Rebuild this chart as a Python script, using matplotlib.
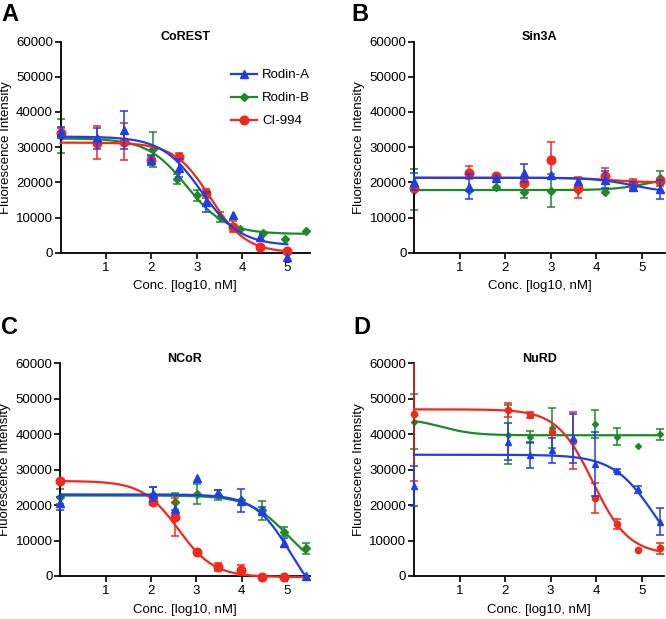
import numpy as np
import matplotlib
matplotlib.use("Agg")
import matplotlib.pyplot as plt
from matplotlib.patches import Rectangle

plt.rcParams['font.family'] = ['Liberation Sans', 'DejaVu Sans']

# --- Data ---
SERIES = ["Rodin-A", "Rodin-B", "CI-994"]
COLORS = {"Rodin-A": "#1f3fe6", "Rodin-B": "#1d8a26", "CI-994": "#f2281c"}
MARKERS = {"Rodin-A": "^", "Rodin-B": "D", "CI-994": "o"}
PANEL_TITLES = ["CoREST", "Sin3A", "NCoR", "NuRD"]
PANEL_LETTERS = ["A", "B", "C", "D"]
X_TICKS = [1, 2, 3, 4, 5]
Y_TICKS = [0, 10000, 20000, 30000, 40000, 50000, 60000]

# A: CoREST
a_x_4fold = [0, 0.8, 1.4, 2.0, 2.6, 3.2, 3.8, 4.4, 5.0]
a_x_3fold = [0, 2.04, 2.56, 3.0, 3.52, 3.96, 4.46, 4.95, 5.42]
a_rodin_a = [34200, 32500, 34900, 26400, 24000, 14500, 10700, 4400, -1100]
a_rodin_a_err = [1600, 2900, 5300, 1500, 2500, 2800, 0, 0, 0]
a_rodin_b = [33200, 29400, 20900, 16300, 10100, 6600, 5600, 3900, 6200]
a_rodin_b_err = [4800, 4900, 1500, 1500, 1500, 0, 0, 0, 0]
a_ci994 = [34000, 31300, 31600, 26300, 27300, 16900, 7400, 1500, 500]
a_ci994_err = [1500, 4600, 5200, 1200, 1000, 1300, 1500, 0, 0]

# B: Sin3A
b_x = [0, 1.2, 1.8, 2.4, 3.0, 3.6, 4.2, 4.8, 5.4]
b_rodin_a = [20200, 18800, 21300, 22600, 22100, 20500, 20800, 18800, 18000]
b_rodin_a_err = [2500, 3600, 0, 2600, 0, 0, 2500, 1200, 2700]
b_rodin_b = [17900, 17800, 18600, 17350, 17650, 17800, 17350, 19000, 21100]
b_rodin_b_err = [5900, 0, 0, 1900, 4700, 0, 0, 0, 2200]
b_ci994 = [18300, 22750, 21800, 19900, 26400, 18500, 21900, 19500, 20500]
b_ci994_err = [0, 1900, 0, 1000, 5200, 3000, 2300, 1500, 0]

# C: NCoR
c_x = [0, 2.04, 2.53, 3.02, 3.49, 3.98, 4.46, 4.94, 5.42]
c_rodin_a = [20500, 23100, 18800, 27600, 23300, 21200, 18400, 9400, 0]
c_rodin_a_err = [1800, 1900, 0, 0, 1000, 3200, 1000, 1200, 0]
c_rodin_b = [22400, 22900, 21000, 23100, 22800, 21500, 18500, 12500, 7800]
c_rodin_b_err = [2000, 2200, 2400, 2900, 1500, 0, 2600, 1300, 1600]
c_x_ci = [0, 2.04, 2.53, 3.02, 3.49, 3.98, 4.46, 4.94]
c_ci994 = [26900, 20800, 16700, 6860, 2640, 1700, -200, -300]
c_ci994_err = [0, 700, 5300, 0, 1100, 1500, 0, 0]

# D: NuRD
d_x = [0, 2.07, 2.55, 3.03, 3.5, 3.98, 4.45, 4.92, 5.4]
d_rodin_a = [25400, 37900, 34100, 35500, 38800, 31500, 29700, 24500, 15300]
d_rodin_a_err = [5600, 5200, 3600, 3500, 6800, 9000, 500, 1000, 3800]
d_rodin_b = [43500, 39800, 39300, 41700, 37900, 42800, 39300, 36700, 40000]
d_rodin_b_err = [7700, 8300, 1700, 5600, 0, 4000, 2400, 0, 1500]
d_ci994 = [45700, 46800, 45400, 40700, 38200, 22100, 14700, 7300, 7800]
d_ci994_err = [18800, 2000, 800, 0, 8000, 4200, 1500, 0, 1500]

# fitted 4-parameter curves: (top, bottom, logIC50, hill, x_end)
a_fits = {"Rodin-A": (33000, 2000, 3.1, 1.0, 5.0),
          "Rodin-B": (32500, 5300, 2.78, 1.0, 5.42),
          "CI-994": (31300, 0, 3.3, 1.1, 5.0)}
b_fits = {"Rodin-A": (21300, 17000, 4.8, 1.05, 5.4),
          "Rodin-B": (17800, 21500, 5.1, 1.2, 5.4),
          "CI-994": (21300, 20000, 4.3, 1.2, 5.4)}
c_fits = {"Rodin-A": (23000, -10000, 5.08, 1.1, 5.42),
          "Rodin-B": (22700, 0, 5.03, 1.0, 5.42),
          "CI-994": (26800, -300, 2.6, 1.1, 5.42)}
d_fits = {"Rodin-A": (34200, 0, 5.29, 0.95, 5.4),
          "Rodin-B": (44500, 39700, 0.6, 1.2, 5.4),
          "CI-994": (47000, 6000, 3.93, 1.1, 5.4)}

panels = [
    {"Rodin-A": (a_x_4fold, a_rodin_a, a_rodin_a_err),
     "Rodin-B": (a_x_3fold, a_rodin_b, a_rodin_b_err),
     "CI-994": (a_x_4fold, a_ci994, a_ci994_err)},
    {"Rodin-A": (b_x, b_rodin_a, b_rodin_a_err),
     "Rodin-B": (b_x, b_rodin_b, b_rodin_b_err),
     "CI-994": (b_x, b_ci994, b_ci994_err)},
    {"Rodin-A": (c_x, c_rodin_a, c_rodin_a_err),
     "Rodin-B": (c_x, c_rodin_b, c_rodin_b_err),
     "CI-994": (c_x_ci, c_ci994, c_ci994_err)},
    {"Rodin-A": (d_x, d_rodin_a, d_rodin_a_err),
     "Rodin-B": (d_x, d_rodin_b, d_rodin_b_err),
     "CI-994": (d_x, d_ci994, d_ci994_err)},
]
fits = [a_fits, b_fits, c_fits, d_fits]


def four_pl(x, top, bottom, logic50, hill):
    return bottom + (top - bottom) / (1 + 10 ** (hill * (x - logic50)))


fig = plt.figure(figsize=(6.66, 6.19), dpi=100)
axes_pos = [
    [0.0911, 0.5918, 0.3744, 0.3409],
    [0.6220, 0.5918, 0.3760, 0.3409],
    [0.0904, 0.0695, 0.3744, 0.3436],
    [0.6216, 0.0695, 0.3760, 0.3436],
]
letter_pos = [(0.002, 0.995), (0.528, 0.995), (0.002, 0.49), (0.531, 0.49)]
ms_scale = [1.0, 1.0, 1.0, 0.72]
draw_order = ["Rodin-B", "CI-994", "Rodin-A"]
msizes = {"Rodin-A": 6.2, "Rodin-B": 4.2, "CI-994": 6.2}
FS = 9.5

for i, pos in enumerate(axes_pos):
    ax = fig.add_axes(pos)
    handles = {}
    for k, name in enumerate(draw_order):
        x, y, err = (np.array(v, dtype=float) for v in panels[i][name])
        col = COLORS[name]
        top, bottom, c50, hill, x_end = fits[i][name]
        xs = np.linspace(0, x_end, 300)
        ax.plot(xs, four_pl(xs, top, bottom, c50, hill), color=col,
                lw=1.6, clip_on=False, zorder=2 + k)
        has_err = err > 0
        eb = ax.errorbar(x[has_err], y[has_err], yerr=err[has_err], fmt='none',
                         ecolor=col, elinewidth=1.1, capsize=3.2, capthick=1.1,
                         zorder=2 + k)
        # clip error bars only at the top of the plot area (Prism style)
        for art in list(eb[1]) + list(eb[2]):
            art.set_clip_path(Rectangle((-0.1, -0.3), 1.3, 1.3,
                                        transform=ax.transAxes))
        ax.plot(x, y, linestyle='none', marker=MARKERS[name], color=col,
                ms=msizes[name] * ms_scale[i], clip_on=False, zorder=2.5 + k)
        handles[name] = ax.plot([], [], color=col, lw=1.6, marker=MARKERS[name],
                                ms=msizes[name])[0]

    ax.set_xlim(0, 5.5)
    ax.set_ylim(0, 60000)
    ax.set_xticks(X_TICKS)
    ax.set_yticks(Y_TICKS)
    ax.set_yticklabels([str(t) for t in Y_TICKS])
    for s in ["top", "right"]:
        ax.spines[s].set_visible(False)
    for s in ["left", "bottom"]:
        ax.spines[s].set_linewidth(1.3)
    ax.tick_params(direction='out', length=4.5, width=1.2, labelsize=FS, pad=2)
    ax.tick_params(axis='y', pad=1)
    ax.set_xlabel("Conc. [log10, nM]", fontsize=FS)
    ax.xaxis.set_label_coords(0.5, -0.13)
    ax.set_ylabel("Fluorescence Intensity", fontsize=FS)
    ax.yaxis.set_label_coords(-0.196, 0.5)
    ax.text(0.5, 1.02, PANEL_TITLES[i], transform=ax.transAxes, ha='center',
            va='center', fontsize=9, fontweight='bold')
    fig.text(letter_pos[i][0], letter_pos[i][1], PANEL_LETTERS[i], fontsize=17,
             fontweight='bold', va='top', ha='left')

    if i == 0:
        ax.legend([handles[n] for n in SERIES], SERIES, loc='upper left',
                  bbox_to_anchor=(0.66, 0.895), frameon=False, fontsize=FS,
                  handlelength=2.0, labelspacing=0.82, handletextpad=0.4,
                  borderaxespad=0)

fig.savefig("out.png", dpi=100)
